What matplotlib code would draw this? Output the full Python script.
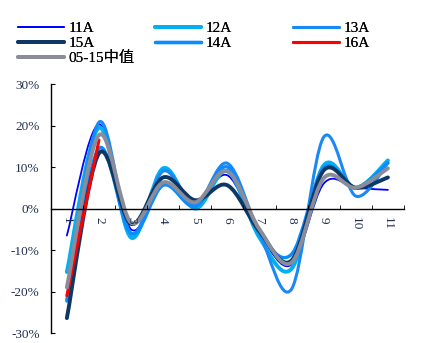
import matplotlib
matplotlib.use("Agg")
import matplotlib.pyplot as plt
from matplotlib.path import Path
from matplotlib.patches import PathPatch
from matplotlib.lines import Line2D
from matplotlib.ticker import FuncFormatter, FixedLocator

# data (monthly growth, %)
months = [1, 2, 3, 4, 5, 6, 7, 8, 9, 10, 11]
s11A = [-6.5, 20.3, -5.0, 6.0, 1.5, 8.0, -6.0, -13.5, 6.0, 5.0, 4.5]
s12A = [-15.3, 19.5, -7.0, 9.7, 0.0, 9.0, -7.0, -14.5, 10.4, 5.0, 11.6]
s13A = [-22.0, 20.8, -6.0, 9.0, 1.0, 10.9, -6.0, -19.4, 17.2, 3.0, 11.0]
s14A = [-22.3, 14.5, -6.0, 5.6, 0.5, 10.0, -6.0, -11.0, 9.8, 5.0, 11.0]
s15A = [-26.4, 13.3, -3.7, 7.5, 2.0, 5.6, -5.5, -12.5, 9.2, 5.0, 7.5]
s16A = [-21.0, 16.5]
median = [-19.0, 17.7, -3.4, 6.3, 1.5, 9.0, -5.0, -13.0, 7.3, 5.0, 9.7]

labels = ["11A", "12A", "13A", "14A", "15A", "16A", "05-15中值"]
colors = ["#0000FF", "#00B0F0", "#1A88F5", "#0A8CFF", "#0D3866", "#FF0000", "#8A8C9A"]
widths = [1.3, 2.8, 2.2, 2.4, 2.8, 2.2, 2.8]


def smooth_path(xs, ys):
    # Excel-like smoothed line: cubic bezier with catmull-rom control points
    pts = list(zip(xs, ys))
    verts = [pts[0]]
    codes = [Path.MOVETO]
    n = len(pts)
    for i in range(n - 1):
        p0 = pts[i - 1] if i > 0 else pts[i]
        p1 = pts[i]
        p2 = pts[i + 1]
        p3 = pts[i + 2] if i + 2 < n else pts[i + 1]
        c1 = (p1[0] + (p2[0] - p0[0]) / 6, p1[1] + (p2[1] - p0[1]) / 6)
        c2 = (p2[0] - (p3[0] - p1[0]) / 6, p2[1] - (p3[1] - p1[1]) / 6)
        verts += [c1, c2, p2]
        codes += [Path.CURVE4] * 3
    return Path(verts, codes)


plt.rcParams['font.family'] = ['Liberation Serif', 'Noto Sans CJK SC']

fig = plt.figure(figsize=(4.27, 3.43), dpi=100)
ax = fig.add_axes([0.119, 0.029, 0.827, 0.726])

series = [s11A, s12A, s13A, s14A, s15A, s16A, median]
for vals, col, lw in zip(series, colors, widths):
    p = smooth_path(months[:len(vals)], vals)
    ax.add_patch(PathPatch(p, facecolor="none", edgecolor=col, lw=lw,
                           capstyle="round", joinstyle="round"))

ax.set_xlim(0.5, 11.5)
ax.set_ylim(-30, 30)

for side in ["top", "right"]:
    ax.spines[side].set_visible(False)
ax.spines["bottom"].set_position(("data", 0))
ax.spines["left"].set_linewidth(1.0)
ax.spines["bottom"].set_linewidth(1.0)

ax.set_yticks([-30, -20, -10, 0, 10, 20, 30])
ax.yaxis.set_major_formatter(FuncFormatter(lambda v, p: "%d%%" % v))
ax.tick_params(axis="y", direction="in", length=3, pad=8, labelsize=9.5, labelcolor="#1F2F4F")

ax.set_xticks(months)
ax.set_xticklabels([str(m) for m in months], rotation=270)
ax.xaxis.set_minor_locator(FixedLocator([m + 0.5 for m in months]))
ax.tick_params(axis="x", which="major", length=0, pad=6, labelsize=9.5, labelcolor="#1F2F4F")
ax.tick_params(axis="x", which="minor", direction="in", length=3)
for t in ax.get_xticklabels():
    t.set_va("top")
    t.set_ha("center")

# legend in three columns like the original
h = [Line2D([], [], color=c, lw=lw, solid_capstyle="round") for c, lw in zip(colors, widths)]
cols = [([0, 4, 6], 0.042), ([1, 3], 0.363), ([2, 5], 0.686)]
for idx, x0 in cols:
    leg = fig.legend([h[i] for i in idx], [labels[i] for i in idx], loc="upper left",
                     bbox_to_anchor=(x0, 0.937), frameon=False, fontsize=11,
                     handlelength=3.0, handletextpad=0.3, labelspacing=0.08,
                     borderaxespad=0, borderpad=0)
    fig.add_artist(leg)

fig.savefig("out.png", dpi=100)
